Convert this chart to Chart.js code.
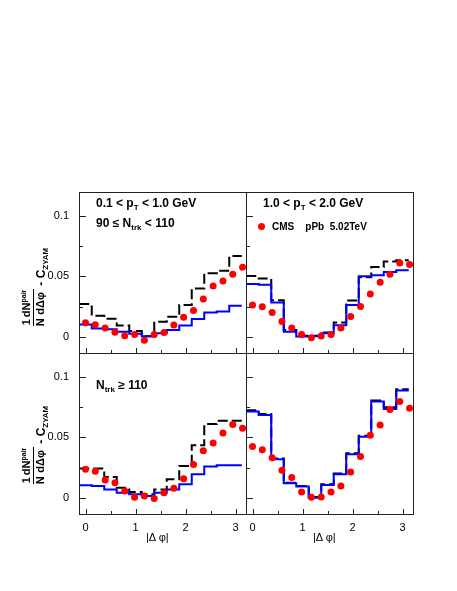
<!DOCTYPE html>
<html>
<head>
<meta charset="utf-8">
<script src="https://cdn.jsdelivr.net/npm/chart.js@4.4.1/dist/chart.umd.min.js"></script>
<style>
  body { margin: 0; background: #fff; }
  #page { position: relative; width: 457px; height: 591px; overflow: hidden;
          font-family: "Liberation Sans", Arial, sans-serif; color: #000; }
  canvas { position: absolute; }
  .lbl { position: absolute; white-space: pre; font-weight: bold; font-size: 12px; line-height: 14px; }
  .lbl sub { font-size: 8px; line-height: 0; vertical-align: -3px; }
  .small { font-size: 10px; line-height: 12px; }
  .dot { position: absolute; width: 7px; height: 7px; border-radius: 50%; background: #ff0000; }
  .xt { position: absolute; font-size: 11px; line-height: 14px; white-space: pre; }
  .ytitle { position: absolute; width: 100px; height: 26px; transform: rotate(-90deg);
            display: flex; align-items: flex-start; justify-content: center;
            font-weight: bold; white-space: nowrap; }
  .frac { display: flex; flex-direction: column; align-items: center; font-size: 11px; line-height: 11px; }
  .frac .num { border-bottom: 1px solid #000; padding: 0 1px 1px; }
  .frac .num sup { font-size: 7px; line-height: 0; vertical-align: 4px; }
  .frac .den { padding-top: 1px; }
  .tail { font-size: 12px; line-height: 12px; margin-top: 14px; margin-left: 3px; }
  .tail sub { font-size: 8px; line-height: 0; vertical-align: -3px; }
</style>
</head>
<body>
<div id="page">
  <canvas id="tl" width="250" height="180" style="left:0px;top:180px"></canvas>
  <canvas id="tr" width="180" height="180" style="left:240px;top:180px"></canvas>
  <canvas id="bl" width="250" height="219" style="left:0px;top:341px"></canvas>
  <canvas id="br" width="180" height="219" style="left:240px;top:341px"></canvas>

  <div class="lbl" style="left:96px;top:196px">0.1 &lt; p<sub>T</sub> &lt; 1.0 GeV</div>
  <div class="lbl" style="left:96px;top:216px">90 &le; N<sub>trk</sub> &lt; 110</div>
  <div class="lbl" style="left:263px;top:196px">1.0 &lt; p<sub>T</sub> &lt; 2.0 GeV</div>
  <span class="dot" style="left:258px;top:223px"></span>
  <div class="lbl small" style="left:272px;top:221px">CMS    pPb  5.02TeV</div>
  <div class="lbl" style="left:96px;top:378px">N<sub>trk</sub> &ge; 110</div>

  <div class="xt" style="left:146px;top:530px">|&Delta; &phi;|</div>
  <div class="xt" style="left:313px;top:530px">|&Delta; &phi;|</div>

  <div class="ytitle" style="left:-16px;top:274px">
    <span class="frac"><span class="num">1</span><span class="den">N</span></span>
    <span class="frac"><span class="num">dN<sup>pair</sup></span><span class="den">d&Delta;&phi;</span></span>
    <span class="tail">- C<sub>ZYAM</sub></span>
  </div>
  <div class="ytitle" style="left:-16px;top:432px">
    <span class="frac"><span class="num">1</span><span class="den">N</span></span>
    <span class="frac"><span class="num">dN<sup>pair</sup></span><span class="den">d&Delta;&phi;</span></span>
    <span class="tail">- C<sub>ZYAM</sub></span>
  </div>
</div>

<script>
// |dphi| of the CMS points (17 points from 0 to pi)
var dphiPoints = [0, 0.196, 0.393, 0.589, 0.785, 0.982, 1.178, 1.374, 1.571,
                  1.767, 1.963, 2.160, 2.356, 2.553, 2.749, 2.945, 3.142];
// histogram bin edges (13 bins)
var binEdges = [-0.125, 0.125, 0.375, 0.625, 0.875, 1.125, 1.375, 1.625,
                1.875, 2.125, 2.375, 2.625, 2.875, 3.125];

// top left : 0.1<pT<1.0, 90<=Ntrk<110
var cmsTL   = [0.0116, 0.0100, 0.0073, 0.0037, 0.0008, 0.0019, -0.0029, 0.0018, 0.0035,
               0.0098, 0.0162, 0.0218, 0.0313, 0.0421, 0.0463, 0.0518, 0.0576];
var blueTL  = [0.0102, 0.0068, 0.0062, 0.0041, 0.0025, 0.0003, 0.0028, 0.0055, 0.0094,
               0.0146, 0.0200, 0.0209, 0.0256];
var blackTL = [0.0272, 0.0174, 0.0150, 0.0093, 0.0047, 0.0003, 0.0124, 0.0165, 0.0262,
               0.0400, 0.0527, 0.0547, 0.0669];

// top right : 1.0<pT<2.0, 90<=Ntrk<110
var cmsTR   = [0.0264, 0.0248, 0.0201, 0.0127, 0.0072, 0.0019, -0.0008, 0.0006, 0.0019,
               0.0072, 0.0168, 0.0250, 0.0355, 0.0452, 0.0518, 0.0612, 0.0598];
var blueTR  = [0.0438, 0.0430, 0.0284, 0.0041, 0.0002, 0.0004, 0.0028, 0.0096, 0.0262,
               0.0501, 0.0510, 0.0537, 0.0551];
var blackTR = [0.0504, 0.0482, 0.0303, 0.0055, 0.0008, 0.0008, 0.0036, 0.0118, 0.0300,
               0.0494, 0.0579, 0.0623, 0.0634];

// bottom left : 0.1<pT<1.0, Ntrk>=110
var cmsBL   = [0.0236, 0.0219, 0.0147, 0.0125, 0.0056, 0.0003, 0.0014, -0.0006, 0.0042,
               0.0078, 0.0158, 0.0275, 0.0389, 0.0453, 0.0536, 0.0608, 0.0575];
var blueBL  = [0.0103, 0.0097, 0.0069, 0.0042, 0.0028, 0.0014, 0.0042, 0.0069, 0.0111,
               0.0194, 0.0258, 0.0269, 0.0269];
var blackBL = [0.0242, 0.0242, 0.0172, 0.0083, 0.0047, 0.0028, 0.0069, 0.0153, 0.0264,
               0.0436, 0.0611, 0.0639, 0.0639];

// bottom right : 1.0<pT<2.0, Ntrk>=110
var cmsBR   = [0.0425, 0.0397, 0.0331, 0.0228, 0.0167, 0.0047, 0.0003, 0.0006, 0.0047,
               0.0097, 0.0214, 0.0342, 0.0519, 0.0603, 0.0731, 0.0797, 0.0742];
var blueBR  = [0.0714, 0.0686, 0.0319, 0.0119, 0.0092, 0.0000, 0.0106, 0.0194, 0.0361,
               0.0506, 0.0797, 0.0736, 0.0889];
var blackBR = [0.0725, 0.0694, 0.0325, 0.0125, 0.0097, 0.0006, 0.0111, 0.0200, 0.0369,
               0.0514, 0.0806, 0.0750, 0.0900];

// axes
var xMin = -0.13, xMax = 3.21;
var yMin = -0.0135, yMax = 0.12;
var xLabelTicks = [0, 1, 2, 3];
var xMinorTicks = [0.5, 1.5, 2.5];
var yLabelTicks = [0, 0.05, 0.1];
var yMinorTicks = [0.025, 0.075];

var FONT = '"Liberation Sans", Arial, sans-serif';

function pointsOf(xs, ys) {
    var out = [];
    for (var i = 0; i < ys.length; i++) out.push({x: xs[i], y: ys[i]});
    return out;
}

// bin edges -> step points, last edge repeats the last bin
function stepsOf(vals) {
    var out = [];
    for (var i = 0; i < binEdges.length; i++) {
        out.push({x: binEdges[i], y: vals[Math.min(i, vals.length - 1)]});
    }
    return out;
}

// frame + inside ticks (ROOT style)
var frameTicks = {
    id: 'frameTicks',
    afterDraw: function (chart) {
        var ctx = chart.ctx, a = chart.chartArea;
        var xs = chart.scales.x, ys = chart.scales.y;
        ctx.save();
        ctx.strokeStyle = '#222';
        ctx.lineWidth = 1;
        ctx.beginPath();
        yLabelTicks.concat(yMinorTicks).forEach(function (v) {
            var y = Math.round(ys.getPixelForValue(v)) + 0.5;
            var len = yLabelTicks.indexOf(v) >= 0 ? 7 : 4;
            ctx.moveTo(a.left, y);
            ctx.lineTo(a.left + len, y);
        });
        xLabelTicks.concat(xMinorTicks).forEach(function (v) {
            var x = Math.round(xs.getPixelForValue(v)) + 0.5;
            var len = xLabelTicks.indexOf(v) >= 0 ? 5 : 3;
            ctx.moveTo(x, a.bottom);
            ctx.lineTo(x, a.bottom - len);
        });
        ctx.stroke();
        ctx.strokeRect(a.left + 0.5, a.top + 0.5, a.right - a.left, a.bottom - a.top);
        ctx.restore();
    }
};

// fixed axis sizes so the four panels line up
function fixX(show) {
    return function (s) {
        s.height = show ? 30 : 0;
        s.paddingLeft = 0; s.paddingRight = 0;
    };
}
function fixY(show) {
    return function (s) {
        s.width = show ? 79 : 0;
        s.paddingTop = 0; s.paddingBottom = 0;
    };
}

function makePanel(id, cms, blue, black, showX, showY, pad) {
    var ctx = document.getElementById(id).getContext('2d');
    return new Chart(ctx, {
        type: 'scatter',
        data: {
            datasets: [{
                data: pointsOf(dphiPoints, cms),
                backgroundColor: '#ff0000',
                borderWidth: 0,
                pointRadius: 3.5
            }, {
                data: stepsOf(blue),
                showLine: true,
                stepped: 'before',
                borderColor: '#0000ff',
                borderWidth: 2,
                pointRadius: 0
            }, {
                data: stepsOf(black),
                showLine: true,
                stepped: 'before',
                borderColor: '#000000',
                borderWidth: 2,
                borderDash: [10, 4],
                pointRadius: 0
            }]
        },
        options: {
            responsive: false,
            animation: false,
            devicePixelRatio: 1,
            events: [],
            layout: { padding: pad },
            plugins: { legend: { display: false }, tooltip: { enabled: false } },
            scales: {
                x: {
                    type: 'linear',
                    min: xMin,
                    max: xMax,
                    display: showX,
                    grid: { display: false, drawTicks: false },
                    border: { display: false },
                    ticks: {
                        padding: 7,
                        autoSkip: false,
                        maxRotation: 0,
                        color: '#000',
                        font: { family: FONT, size: 11 },
                        callback: function (v) { return String(v); }
                    },
                    afterBuildTicks: function (s) {
                        s.ticks = xLabelTicks.map(function (v) { return {value: v}; });
                    },
                    afterFit: fixX(showX)
                },
                y: {
                    type: 'linear',
                    min: yMin,
                    max: yMax,
                    display: showY,
                    grid: { display: false, drawTicks: false },
                    border: { display: false },
                    ticks: {
                        padding: 10,
                        autoSkip: false,
                        color: '#000',
                        font: { family: FONT, size: 11 },
                        callback: function (v) { return String(v); }
                    },
                    afterBuildTicks: function (s) {
                        s.ticks = yLabelTicks.map(function (v) { return {value: v}; });
                    },
                    afterFit: fixY(showY)
                }
            }
        },
        plugins: [frameTicks]
    });
}

makePanel('tl', cmsTL, blueTL, blackTL, false, true,  {left: 0, right: 4, top: 12, bottom: 7});
makePanel('tr', cmsTR, blueTR, blackTR, false, false, {left: 6, right: 7, top: 12, bottom: 7});
makePanel('bl', cmsBL, blueBL, blackBL, true,  true,  {left: 0, right: 4, top: 12, bottom: 16});
makePanel('br', cmsBR, blueBR, blackBR, true,  false, {left: 6, right: 7, top: 12, bottom: 16});
</script>
</body>
</html>
